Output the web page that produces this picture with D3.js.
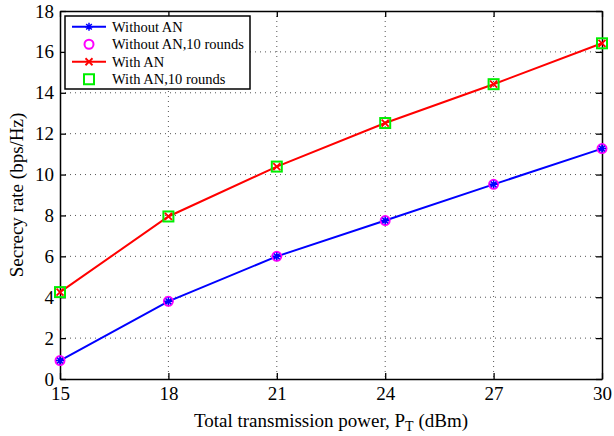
<!DOCTYPE html>
<html>
<head>
<meta charset="utf-8">
<script src="https://cdn.jsdelivr.net/npm/d3@7"></script>
<style>
body { margin: 0; background: #fff; }
svg text { font-family: "Liberation Serif", "Times New Roman", serif; fill: #000; }
</style>
</head>
<body>
<svg id="chart" width="614" height="436"></svg>
<script>
var powers = [15, 18, 21, 24, 27, 30];
var without_an = [0.9, 3.8, 6.0, 7.75, 9.52, 11.27];
var without_an_10 = [0.9, 3.8, 6.0, 7.75, 9.52, 11.27];
var with_an = [4.25, 7.95, 10.39, 12.52, 14.42, 16.42];
var with_an_10 = [4.25, 7.95, 10.39, 12.52, 14.42, 16.42];
var x_ticks = [15, 18, 21, 24, 27, 30];
var y_ticks = [0, 2, 4, 6, 8, 10, 12, 14, 16, 18];
var legend_labels = ["Without AN", "Without AN,10 rounds", "With AN", "With AN,10 rounds"];

var margin = { left: 60, right: 12, top: 11, bottom: 57 };
var width = 614 - margin.left - margin.right;
var height = 436 - margin.top - margin.bottom;

var svg = d3.select("#chart");
var g = svg.append("g")
    .attr("transform", "translate(" + margin.left + "," + margin.top + ")");

var x = d3.scaleLinear().domain([15, 30]).range([0, width]);
var y = d3.scaleLinear().domain([0, 18]).range([height, 0]);

// dotted grid
g.selectAll(".gx")
    .data(x_ticks.slice(1, -1))
    .enter().append("line")
    .attr("x1", d => x(d)).attr("x2", d => x(d))
    .attr("y1", 0).attr("y2", height)
    .attr("stroke", "#555").attr("stroke-width", 1)
    .attr("stroke-dasharray", "1,4");

g.selectAll(".gy")
    .data(y_ticks.slice(1, -1))
    .enter().append("line")
    .attr("x1", 0).attr("x2", width)
    .attr("y1", d => y(d)).attr("y2", d => y(d))
    .attr("stroke", "#555").attr("stroke-width", 1)
    .attr("stroke-dasharray", "1,4");

// axes (ticks inward, mirrored)
var xb = g.append("g").attr("transform", "translate(0," + height + ")")
    .call(d3.axisBottom(x).tickValues(x_ticks).tickSize(-6).tickPadding(8).tickSizeOuter(0));
var xt = g.append("g")
    .call(d3.axisTop(x).tickValues(x_ticks).tickSize(-6).tickFormat("").tickSizeOuter(0));
var yl = g.append("g")
    .call(d3.axisLeft(y).tickValues(y_ticks).tickSize(-6).tickPadding(6).tickSizeOuter(0));
var yr = g.append("g").attr("transform", "translate(" + width + ",0)")
    .call(d3.axisRight(y).tickValues(y_ticks).tickSize(-6).tickFormat("").tickSizeOuter(0));

[xb, xt, yl, yr].forEach(function(a) {
    a.select(".domain").attr("stroke", "#000").attr("stroke-width", 1.5);
    a.selectAll(".tick line").attr("stroke", "#000").attr("stroke-width", 1.3);
    a.selectAll("text").style("font-size", "19px")
        .style("font-family", "'Liberation Serif', serif").attr("fill", "#000");
});

var line = d3.line()
    .x(function(d, i) { return x(powers[i]); })
    .y(function(d) { return y(d); });

function star(size) {
    var s = size, d = s * 0.7;
    return "M" + (-s) + ",0L" + s + ",0M0," + (-s) + "L0," + s +
        "M" + (-d) + "," + (-d) + "L" + d + "," + d + "M" + (-d) + "," + d + "L" + d + "," + (-d);
}
function cross(size) {
    return "M" + (-size) + "," + (-size) + "L" + size + "," + size +
        "M" + (-size) + "," + size + "L" + size + "," + (-size);
}

// lines
g.append("path").datum(without_an).attr("d", line)
    .attr("fill", "none").attr("stroke", "#0000ff").attr("stroke-width", 2);
g.append("path").datum(with_an).attr("d", line)
    .attr("fill", "none").attr("stroke", "#ff0000").attr("stroke-width", 2);

// markers
g.selectAll(".c10").data(without_an_10).enter().append("circle")
    .attr("cx", (d, i) => x(powers[i])).attr("cy", d => y(d)).attr("r", 4.5)
    .attr("fill", "none").attr("stroke", "#ff00ff").attr("stroke-width", 2);
g.selectAll(".st").data(without_an).enter().append("path")
    .attr("transform", (d, i) => "translate(" + x(powers[i]) + "," + y(d) + ")")
    .attr("d", star(4)).attr("stroke", "#0000ff").attr("stroke-width", 1.5);
g.selectAll(".sq").data(with_an_10).enter().append("rect")
    .attr("x", (d, i) => x(powers[i]) - 5).attr("y", d => y(d) - 5)
    .attr("width", 10).attr("height", 10)
    .attr("fill", "none").attr("stroke", "#00ee00").attr("stroke-width", 2);
g.selectAll(".cx").data(with_an).enter().append("path")
    .attr("transform", (d, i) => "translate(" + x(powers[i]) + "," + y(d) + ")")
    .attr("d", cross(3.5)).attr("stroke", "#ff0000").attr("stroke-width", 1.8);

// axis labels
var xl = svg.append("text")
    .attr("x", margin.left + width / 2).attr("y", 427)
    .attr("text-anchor", "middle").style("font-size", "19px");
xl.append("tspan").text("Total transmission power, P");
xl.append("tspan").attr("dy", 4).style("font-size", "14px").text("T");
xl.append("tspan").attr("dy", -4).text(" (dBm)");

svg.append("text")
    .attr("transform", "translate(23," + (margin.top + height / 2) + ") rotate(-90)")
    .attr("text-anchor", "middle").style("font-size", "19px")
    .text("Secrecy rate (bps/Hz)");

// legend
var lg = svg.append("g");
lg.append("rect").attr("x", 65).attr("y", 16).attr("width", 185).attr("height", 73)
    .attr("fill", "#fff").attr("stroke", "#000").attr("stroke-width", 1.5);

var ly = d3.scaleBand().domain(legend_labels).range([18, 88]);
var items = lg.selectAll(".item").data(legend_labels).enter().append("g")
    .attr("transform", d => "translate(0," + (ly(d) + ly.bandwidth() / 2) + ")");

items.filter((d, i) => i == 0 || i == 2).append("line")
    .attr("x1", 72).attr("x2", 106)
    .attr("stroke", (d, i) => i == 0 ? "#0000ff" : "#ff0000").attr("stroke-width", 2);

items.each(function(d, i) {
    var it = d3.select(this);
    if (i == 0) it.append("path").attr("transform", "translate(89,0)").attr("d", star(4))
        .attr("stroke", "#0000ff").attr("stroke-width", 1.5);
    if (i == 1) it.append("circle").attr("cx", 89).attr("r", 4.5)
        .attr("fill", "none").attr("stroke", "#ff00ff").attr("stroke-width", 2);
    if (i == 2) it.append("path").attr("transform", "translate(89,0)").attr("d", cross(3.5))
        .attr("stroke", "#ff0000").attr("stroke-width", 1.8);
    if (i == 3) it.append("rect").attr("x", 84).attr("y", -5).attr("width", 10).attr("height", 10)
        .attr("fill", "none").attr("stroke", "#00ee00").attr("stroke-width", 2);
});

items.append("text")
    .text(d => d)
    .attr("x", 112).attr("y", 0)
    .attr("dominant-baseline", "central")
    .style("font-size", "14.5px");
</script>
</body>
</html>
